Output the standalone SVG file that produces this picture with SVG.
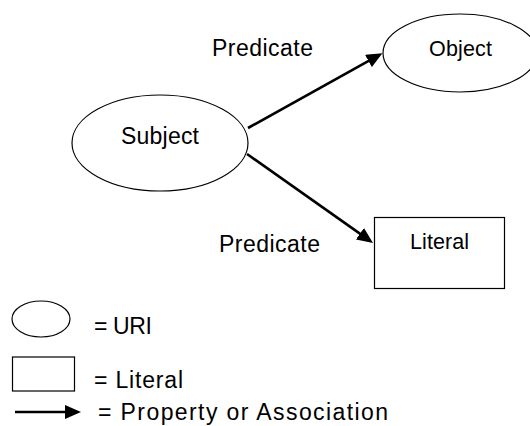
<svg xmlns="http://www.w3.org/2000/svg" width="530" height="426" viewBox="0 0 530 426">
<style>
.shape{fill:#fff;stroke:#000;stroke-width:1.2}
.edge{stroke:#000;stroke-width:2.6;fill:none;marker-end:url(#ah)}
text{font-family:"Liberation Sans",Arial,sans-serif;fill:#000}
.big{font-size:23px}
.lbl{font-size:21.5px}
</style>
<defs>
<marker id="ah" viewBox="0 0 16 14" refX="9" refY="7" markerWidth="16" markerHeight="14" markerUnits="userSpaceOnUse" orient="auto">
<path d="M0,0 L16,7 L0,14 Z" fill="#000"/>
</marker>
</defs>
<rect width="530" height="426" fill="#fff"/>
<g id="connectors">
<line class="edge" x1="248" y1="128" x2="376.3" y2="56.6"/>
<line class="edge" x1="247" y1="154" x2="367.3" y2="238.9"/>
<text class="big" x="212" y="56" textLength="101">Predicate</text>
<text class="big" x="219" y="252" textLength="101">Predicate</text>
</g>
<g id="subject">
<ellipse class="shape" cx="160" cy="143" rx="88" ry="48"/>
<text class="big" x="121" y="144" textLength="78">Subject</text>
</g>
<g id="object">
<ellipse class="shape" cx="460" cy="53" rx="77" ry="39"/>
<text class="lbl" x="429" y="56" textLength="63">Object</text>
</g>
<g id="literal">
<rect class="shape" x="374.5" y="217.5" width="130" height="71"/>
<text class="lbl" x="410" y="249" textLength="59">Literal</text>
</g>
<g id="legend">
<ellipse class="shape" cx="41" cy="319" rx="29" ry="18"/>
<text class="big" x="94" y="334" textLength="58">= URI</text>
<rect class="shape" x="12.5" y="357" width="62" height="34"/>
<text class="big" x="94" y="388" textLength="89">= Literal</text>
<line class="edge" x1="15" y1="412" x2="74" y2="412"/>
<text class="big" x="98" y="420" textLength="290">= Property or Association</text>
</g>
</svg>
